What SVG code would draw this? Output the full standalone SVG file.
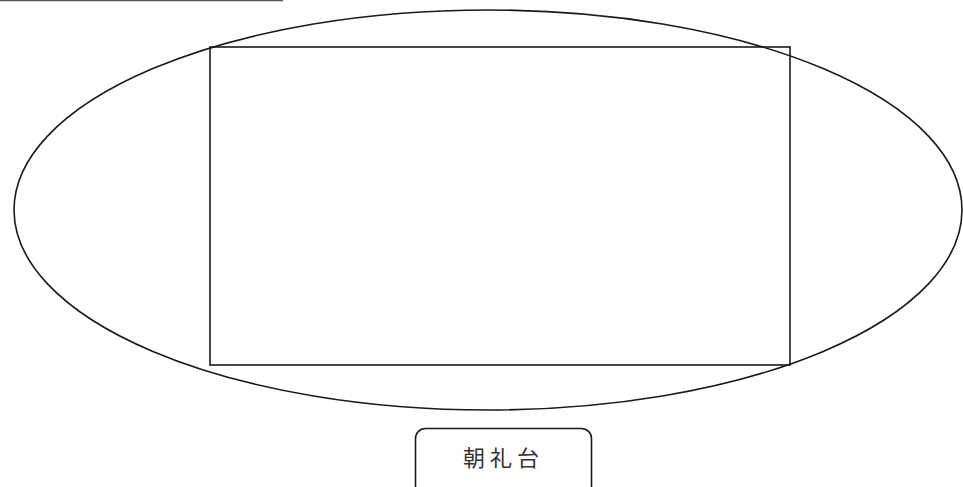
<svg xmlns="http://www.w3.org/2000/svg" width="963" height="487" viewBox="0 0 963 487">
<style>
.s{fill:none;stroke:#1a1a1a;stroke-width:1.6}
.t{font-family:"Noto Sans CJK JP","Noto Sans CJK SC",sans-serif;font-size:22px;fill:#333;letter-spacing:5px}
</style>
<rect width="963" height="487" fill="#fff"/>
<line x1="0" y1="0.5" x2="283" y2="0.5" stroke="#555" stroke-width="1.5"/>
<g id="ellipse"><ellipse class="s" cx="488" cy="210" rx="474" ry="200"/></g>
<g id="field"><rect class="s" x="210" y="47" width="580" height="318"/></g>
<g id="stage"><rect class="s" x="415.5" y="428.5" width="176" height="70" rx="10"/>
<text class="t" x="503.5" y="466" text-anchor="middle">朝礼台</text></g>
</svg>
